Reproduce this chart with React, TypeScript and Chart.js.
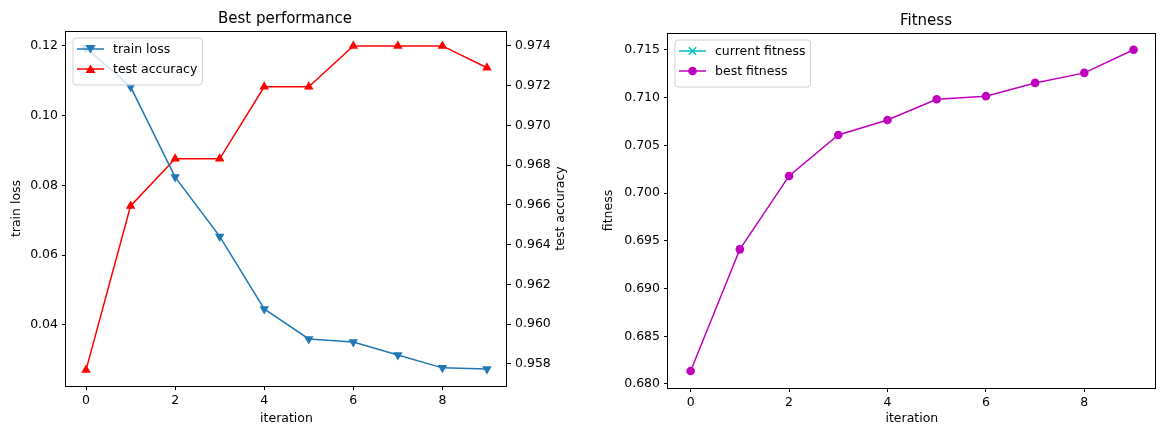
import React, { useEffect, useRef } from "react";
import { Chart, registerables } from "chart.js";

Chart.register(...registerables);

const iterations = [0, 1, 2, 3, 4, 5, 6, 7, 8, 9];
const trainLoss = [0.1194, 0.1083, 0.0824, 0.0654, 0.0446, 0.036, 0.0351, 0.0314, 0.0277, 0.0274];
const testAccuracy = [0.9577, 0.96595, 0.96832, 0.96832, 0.97194, 0.97194, 0.974, 0.974, 0.974, 0.9729];
const currentFitness: number[] = [];
const bestFitness = [0.68136, 0.69411, 0.7018, 0.70609, 0.70766, 0.70983, 0.71016, 0.71155, 0.7126, 0.71503];

const xTicks = [0, 2, 4, 6, 8];
const lossTicks = [0.04, 0.06, 0.08, 0.1, 0.12];
const accTicks = [0.958, 0.96, 0.962, 0.964, 0.966, 0.968, 0.97, 0.972, 0.974];
const fitTicks = [0.68, 0.685, 0.69, 0.695, 0.7, 0.705, 0.71, 0.715];

const FONT = "'DejaVu Sans', sans-serif";
const FS = 12.5;
const BLUE = "#1f77b4";
const RED = "#ff0000";
const MAGENTA = "#bf00bf";
const CYAN = "#00bfbf";

function pts(ys: number[]) {
  return ys.map((y, i) => ({ x: iterations[i], y }));
}

function drawMarker(ctx: CanvasRenderingContext2D, kind: string, x: number, y: number, color: string) {
  ctx.save();
  ctx.fillStyle = color;
  ctx.strokeStyle = color;
  ctx.lineWidth = 1.5;
  const r = 5;
  ctx.beginPath();
  if (kind === "down") {
    ctx.moveTo(x - r, y - r * 0.8);
    ctx.lineTo(x + r, y - r * 0.8);
    ctx.lineTo(x, y + r * 0.9);
    ctx.closePath();
    ctx.fill();
  } else if (kind === "up") {
    ctx.moveTo(x - r, y + r * 0.8);
    ctx.lineTo(x + r, y + r * 0.8);
    ctx.lineTo(x, y - r * 0.9);
    ctx.closePath();
    ctx.fill();
  } else if (kind === "circle") {
    ctx.arc(x, y, 4.3, 0, Math.PI * 2);
    ctx.fill();
  } else if (kind === "cross") {
    ctx.moveTo(x - 3.7, y - 3.7);
    ctx.lineTo(x + 3.7, y + 3.7);
    ctx.moveTo(x + 3.7, y - 3.7);
    ctx.lineTo(x - 3.7, y + 3.7);
    ctx.stroke();
  }
  ctx.restore();
}

const mplPlugin = {
  id: "mpl",
  afterDatasetsDraw(chart: any, _args: any, opts: any) {
    const ctx: CanvasRenderingContext2D = chart.ctx;
    const a = chart.chartArea;
    // frame
    ctx.save();
    ctx.strokeStyle = "#000";
    ctx.lineWidth = 1;
    const x0 = Math.floor(a.left) - 0.5;
    const x1 = Math.ceil(a.right) - 0.5;
    const y0 = Math.floor(a.top) + 0.5;
    const y1 = Math.ceil(a.bottom) + 0.5;
    ctx.strokeRect(x0, y0, x1 - x0, y1 - y0);
    ctx.restore();

    // title
    ctx.save();
    ctx.fillStyle = "#000";
    ctx.font = `15px ${FONT}`;
    ctx.textAlign = "center";
    ctx.textBaseline = "middle";
    ctx.fillText(opts.title, opts.titleX, opts.titleY);
    ctx.restore();

    // right rotated label
    if (opts.rightLabel) {
      ctx.save();
      ctx.fillStyle = "#000";
      ctx.font = `${FS}px ${FONT}`;
      ctx.textAlign = "center";
      ctx.textBaseline = "middle";
      ctx.translate(opts.rightLabelX, (a.top + a.bottom) / 2);
      ctx.rotate(-Math.PI / 2);
      ctx.fillText(opts.rightLabel, 0, 0);
      ctx.restore();
    }

    // legend
    const items = opts.legend as { label: string; color: string; marker: string }[];
    ctx.save();
    ctx.font = `${FS}px ${FONT}`;
    const tw = Math.max(...items.map((it) => ctx.measureText(it.label).width));
    const bx = a.left + 7;
    const by = a.top + 7;
    const bw = 40 + tw + 5;
    const bh = 8 + items.length * 19 + 1;
    ctx.beginPath();
    const rr = 3;
    ctx.moveTo(bx + rr, by);
    ctx.lineTo(bx + bw - rr, by);
    ctx.arcTo(bx + bw, by, bx + bw, by + rr, rr);
    ctx.lineTo(bx + bw, by + bh - rr);
    ctx.arcTo(bx + bw, by + bh, bx + bw - rr, by + bh, rr);
    ctx.lineTo(bx + rr, by + bh);
    ctx.arcTo(bx, by + bh, bx, by + bh - rr, rr);
    ctx.lineTo(bx, by + rr);
    ctx.arcTo(bx, by, bx + rr, by, rr);
    ctx.closePath();
    ctx.fillStyle = "rgba(255,255,255,0.8)";
    ctx.fill();
    ctx.strokeStyle = "#d0d0d0";
    ctx.lineWidth = 1;
    ctx.stroke();
    items.forEach((it, i) => {
      const cy = by + 11 + i * 20;
      ctx.strokeStyle = it.color;
      ctx.lineWidth = 1.5;
      ctx.beginPath();
      ctx.moveTo(bx + 4, cy);
      ctx.lineTo(bx + 31, cy);
      ctx.stroke();
      drawMarker(ctx, it.marker, bx + 17.5, cy, it.color);
      ctx.fillStyle = "#000";
      ctx.textAlign = "left";
      ctx.textBaseline = "middle";
      ctx.fillText(it.label, bx + 40, cy + 1);
    });
    ctx.restore();
  },
};

function fixedTicks(values: number[]) {
  return (scale: any) => {
    scale.ticks = values.map((v) => ({ value: v }));
  };
}

function tickGrid() {
  return {
    display: true,
    drawOnChartArea: false,
    drawTicks: true,
    tickLength: 4,
    color: "#000",
    tickColor: "#000",
    lineWidth: 1,
  };
}

const tickFont = { family: FONT, size: FS };
const labelFont = { family: FONT, size: FS, lineHeight: 1 };

function LeftChart() {
  const ref = useRef<HTMLCanvasElement>(null);
  useEffect(() => {
    const chart = new Chart(ref.current as HTMLCanvasElement, {
      type: "line",
      data: {
        datasets: [
          {
            label: "train loss",
            data: pts(trainLoss),
            yAxisID: "y",
            borderColor: BLUE,
            backgroundColor: BLUE,
            borderWidth: 1.5,
            pointStyle: "triangle",
            pointRotation: 180,
            pointRadius: 5.5,
            pointBorderWidth: 0,
          },
          {
            label: "test accuracy",
            data: pts(testAccuracy),
            yAxisID: "y1",
            borderColor: RED,
            backgroundColor: RED,
            borderWidth: 1.5,
            pointStyle: "triangle",
            pointRadius: 5.5,
            pointBorderWidth: 0,
          },
        ],
      },
      plugins: [mplPlugin],
      options: {
        animation: false,
        responsive: false,
        layout: { padding: { top: 31, left: 0, right: 0, bottom: 0 } },
        plugins: {
          legend: { display: false },
          tooltip: { enabled: false },
          title: { display: false },
          mpl: {
            title: "Best performance",
            titleX: 285,
            titleY: 19,
            rightLabel: "test accuracy",
            rightLabelX: 561,
            legend: [
              { label: "train loss", color: BLUE, marker: "down" },
              { label: "test accuracy", color: RED, marker: "up" },
            ],
          },
        } as any,
        scales: {
          x: {
            type: "linear",
            min: -0.45,
            max: 9.45,
            afterBuildTicks: fixedTicks(xTicks),
            afterFit: (s: any) => {
              s.height = 39;
            },
            grid: tickGrid(),
            border: { display: false },
            ticks: { color: "#000", font: tickFont, padding: 3, maxRotation: 0, callback: (v: any) => String(v) },
            title: { display: true, text: "iteration", color: "#000", font: labelFont, padding: { top: 0, bottom: 0 } },
          },
          y: {
            type: "linear",
            position: "left",
            min: 0.0225,
            max: 0.1243,
            afterBuildTicks: fixedTicks(lossTicks),
            afterFit: (s: any) => {
              s.width = 66;
            },
            grid: tickGrid(),
            border: { display: false },
            ticks: { color: "#000", font: tickFont, padding: 4, callback: (v: any) => Number(v).toFixed(2) },
            title: { display: true, text: "train loss", color: "#000", font: labelFont, padding: { top: 10, bottom: 0 } },
          },
          y1: {
            type: "linear",
            position: "right",
            min: 0.95689,
            max: 0.97475,
            afterBuildTicks: fixedTicks(accTicks),
            afterFit: (s: any) => {
              s.width = 73;
            },
            grid: tickGrid(),
            border: { display: false },
            ticks: { color: "#000", font: tickFont, padding: 4, callback: (v: any) => Number(v).toFixed(3) },
          },
        },
      } as any,
    });
    return () => chart.destroy();
  }, []);
  return <canvas ref={ref} width={580} height={425} style={{ display: "block" }} />;
}

function RightChart() {
  const ref = useRef<HTMLCanvasElement>(null);
  useEffect(() => {
    const chart = new Chart(ref.current as HTMLCanvasElement, {
      type: "line",
      data: {
        datasets: [
          {
            label: "current fitness",
            data: pts(currentFitness),
            borderColor: CYAN,
            backgroundColor: CYAN,
            borderWidth: 1.5,
            pointStyle: "crossRot",
            pointRadius: 4,
          },
          {
            label: "best fitness",
            data: pts(bestFitness),
            borderColor: MAGENTA,
            backgroundColor: MAGENTA,
            borderWidth: 1.5,
            pointStyle: "circle",
            pointRadius: 4.3,
            pointBorderWidth: 0,
          },
        ],
      },
      plugins: [mplPlugin],
      options: {
        animation: false,
        responsive: false,
        layout: { padding: { top: 33, left: 0, right: 0, bottom: 0 } },
        plugins: {
          legend: { display: false },
          tooltip: { enabled: false },
          title: { display: false },
          mpl: {
            title: "Fitness",
            titleX: 346,
            titleY: 21,
            legend: [
              { label: "current fitness", color: CYAN, marker: "cross" },
              { label: "best fitness", color: MAGENTA, marker: "circle" },
            ],
          },
        } as any,
        scales: {
          x: {
            type: "linear",
            min: -0.46,
            max: 9.45,
            afterBuildTicks: fixedTicks(xTicks),
            afterFit: (s: any) => {
              s.height = 37;
            },
            grid: tickGrid(),
            border: { display: false },
            ticks: { color: "#000", font: tickFont, padding: 3, maxRotation: 0, callback: (v: any) => String(v) },
            title: { display: true, text: "iteration", color: "#000", font: labelFont, padding: { top: 0, bottom: 0 } },
          },
          y: {
            type: "linear",
            position: "left",
            min: 0.67958,
            max: 0.71678,
            afterBuildTicks: fixedTicks(fitTicks),
            afterFit: (s: any) => {
              s.width = 88;
            },
            grid: tickGrid(),
            border: { display: false },
            ticks: { color: "#000", font: tickFont, padding: 4, callback: (v: any) => Number(v).toFixed(3) },
            title: { display: true, text: "fitness", color: "#000", font: labelFont, padding: { top: 22, bottom: 0 } },
          },
        },
      } as any,
    });
    return () => chart.destroy();
  }, []);
  return <canvas ref={ref} width={580} height={425} style={{ display: "block" }} />;
}

export default function App() {
  return (
    <div style={{ position: "absolute", left: 0, top: 0, width: 1160, height: 425, background: "#fff", overflow: "hidden" }}>
      <div style={{ position: "absolute", left: 0, top: 0 }}>
        <LeftChart />
      </div>
      <div style={{ position: "absolute", left: 580, top: 0 }}>
        <RightChart />
      </div>
    </div>
  );
}
